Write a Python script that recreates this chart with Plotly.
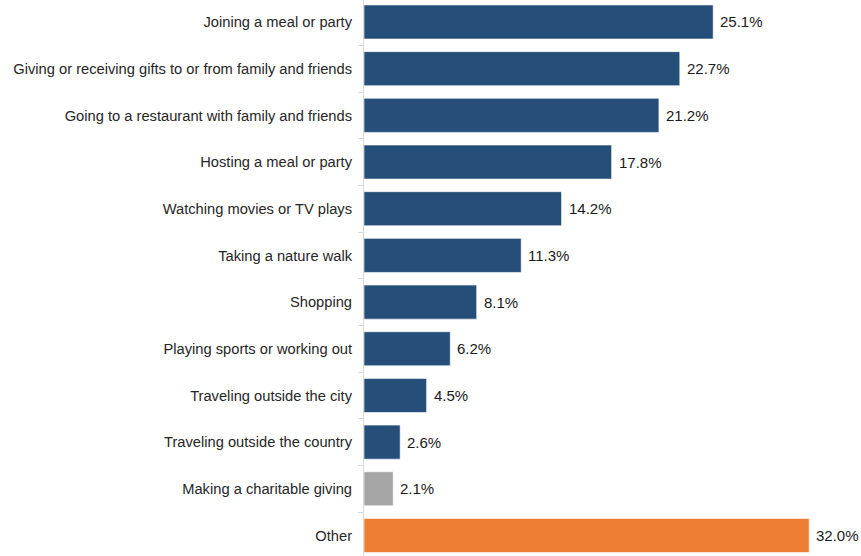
import plotly.graph_objects as go

categories = [
    "Joining a meal or party",
    "Giving or receiving gifts to or from family and friends",
    "Going to a restaurant with family and friends",
    "Hosting a meal or party",
    "Watching movies or TV plays",
    "Taking a nature walk",
    "Shopping",
    "Playing sports or working out",
    "Traveling outside the city",
    "Traveling outside the country",
    "Making a charitable giving",
    "Other",
]
values = [25.1, 22.7, 21.2, 17.8, 14.2, 11.3, 8.1, 6.2, 4.5, 2.6, 2.1, 32.0]

NAVY = "#254E79"
GRAY = "#A6A6A6"
ORANGE = "#ED7D31"
colors = [NAVY] * 10 + [GRAY, ORANGE]

FONT = "Liberation Sans, Arial, sans-serif"

fig = go.Figure(
    go.Bar(
        x=values,
        y=categories,
        orientation="h",
        marker=dict(color=colors, line=dict(color="rgba(255,255,255,0.6)", width=1)),
        hoverinfo="x+y",
    )
)

# value labels just past the end of each bar
for cat, v in zip(categories, values):
    fig.add_annotation(
        x=v,
        y=cat,
        text=f"{v:.1f}%",
        showarrow=False,
        xanchor="left",
        xshift=5,
        font=dict(family=FONT, size=15, color="#1a1a1a"),
    )

fig.update_layout(
    width=861,
    height=556,
    margin=dict(l=364, r=8, t=0, b=0),
    paper_bgcolor="white",
    plot_bgcolor="white",
    font=dict(family=FONT, size=14.7, color="#262626"),
    bargap=0.27,
    showlegend=False,
    xaxis=dict(range=[0, 35.15], visible=False),
    yaxis=dict(
        type="category",
        range=[11.439, -0.471],
        showline=True,
        linecolor="#D9D9D9",
        linewidth=1,
        ticks="outside",
        tickson="boundaries",
        ticklen=5,
        tickcolor="#D9D9D9",
        ticklabelstandoff=8,
        showgrid=False,
        zeroline=False,
        tickfont=dict(family=FONT, size=14.7, color="#262626"),
    ),
)

fig.write_html("out.html")
